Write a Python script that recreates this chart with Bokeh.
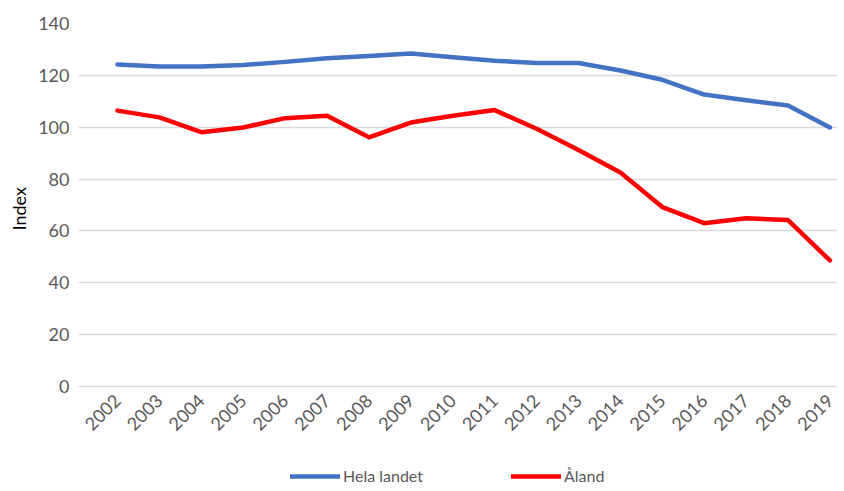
import math
from bokeh.plotting import figure
from bokeh.models import Range1d, FixedTicker, Legend, LegendItem, Title
from bokeh.embed import file_html
from bokeh.resources import INLINE

years = [2002, 2003, 2004, 2005, 2006, 2007, 2008, 2009, 2010,
         2011, 2012, 2013, 2014, 2015, 2016, 2017, 2018, 2019]
year_labels = [str(y) for y in years]
hela_landet = [124.2, 123.4, 123.4, 124.0, 125.2, 126.6, 127.5, 128.4, 127.0,
               125.6, 124.8, 124.8, 121.9, 118.3, 112.6, 110.4, 108.4, 99.9]
aland = [106.4, 103.8, 98.1, 99.9, 103.5, 104.4, 96.1, 101.8, 104.4,
         106.6, 99.4, 91.2, 82.5, 69.2, 63.0, 64.9, 64.2, 48.6]
y_ticks = [0, 20, 40, 60, 80, 100, 120, 140]

FONT = "Lato"
GRAY = "#595959"

# frame reaches below the 0-line and left of the first year so that the
# legend and the rotated year labels are drawn inside it
p = figure(frame_width=759, frame_height=464, output_backend="svg", toolbar_location=None,
           x_range=Range1d(2001.07, 2019.18), y_range=Range1d(-38.95, 140),
           min_border_left=67, min_border_top=23, min_border_right=2,
           min_border_bottom=0)
p.outline_line_color = None
p.background_fill_color = "white"
p.border_fill_color = "white"

r1 = p.line(years, hela_landet, line_color="#4472C4", line_width=4.5, line_cap="round", line_join="round")
r2 = p.line(years, aland, line_color="#FF0000", line_width=4.5, line_cap="round", line_join="round")

p.xgrid.grid_line_color = None
p.ygrid.grid_line_color = "#D9D9D9"
p.ygrid.grid_line_width = 1.5

p.yaxis.ticker = FixedTicker(ticks=y_ticks)
p.xaxis.ticker = FixedTicker(ticks=years)
p.xaxis.major_label_overrides = {y: s for y, s in zip(years, year_labels)}
p.xaxis.major_label_orientation = math.pi / 4
p.xaxis.fixed_location = 0

for ax in (p.xaxis[0], p.yaxis[0]):
    ax.axis_line_color = None
    ax.major_tick_line_color = None
    ax.minor_tick_line_color = None
    ax.major_label_text_font = FONT
    ax.major_label_text_font_size = "18px"
    ax.major_label_text_color = GRAY

p.yaxis.major_label_standoff = 3
p.xaxis.major_label_standoff = 5

ytitle = Title(text="Index", align="left", offset=257, standoff=11,
               text_font=FONT, text_font_size="18px", text_font_style="normal",
               text_color="#000000")
p.add_layout(ytitle, "left")

legend = Legend(items=[LegendItem(label="Hela landet", renderers=[r1]),
                       LegendItem(label="Åland", renderers=[r2])],
                orientation="horizontal", location=(212, 2),
                glyph_width=50, glyph_height=14, spacing=88,
                label_text_font=FONT, label_text_font_size="16px",
                label_text_color=GRAY, label_standoff=3, label_height=14,
                border_line_color=None, background_fill_alpha=0,
                padding=0, margin=0)
p.add_layout(legend, "center")

open("out.html", "w").write(file_html(p, INLINE))
